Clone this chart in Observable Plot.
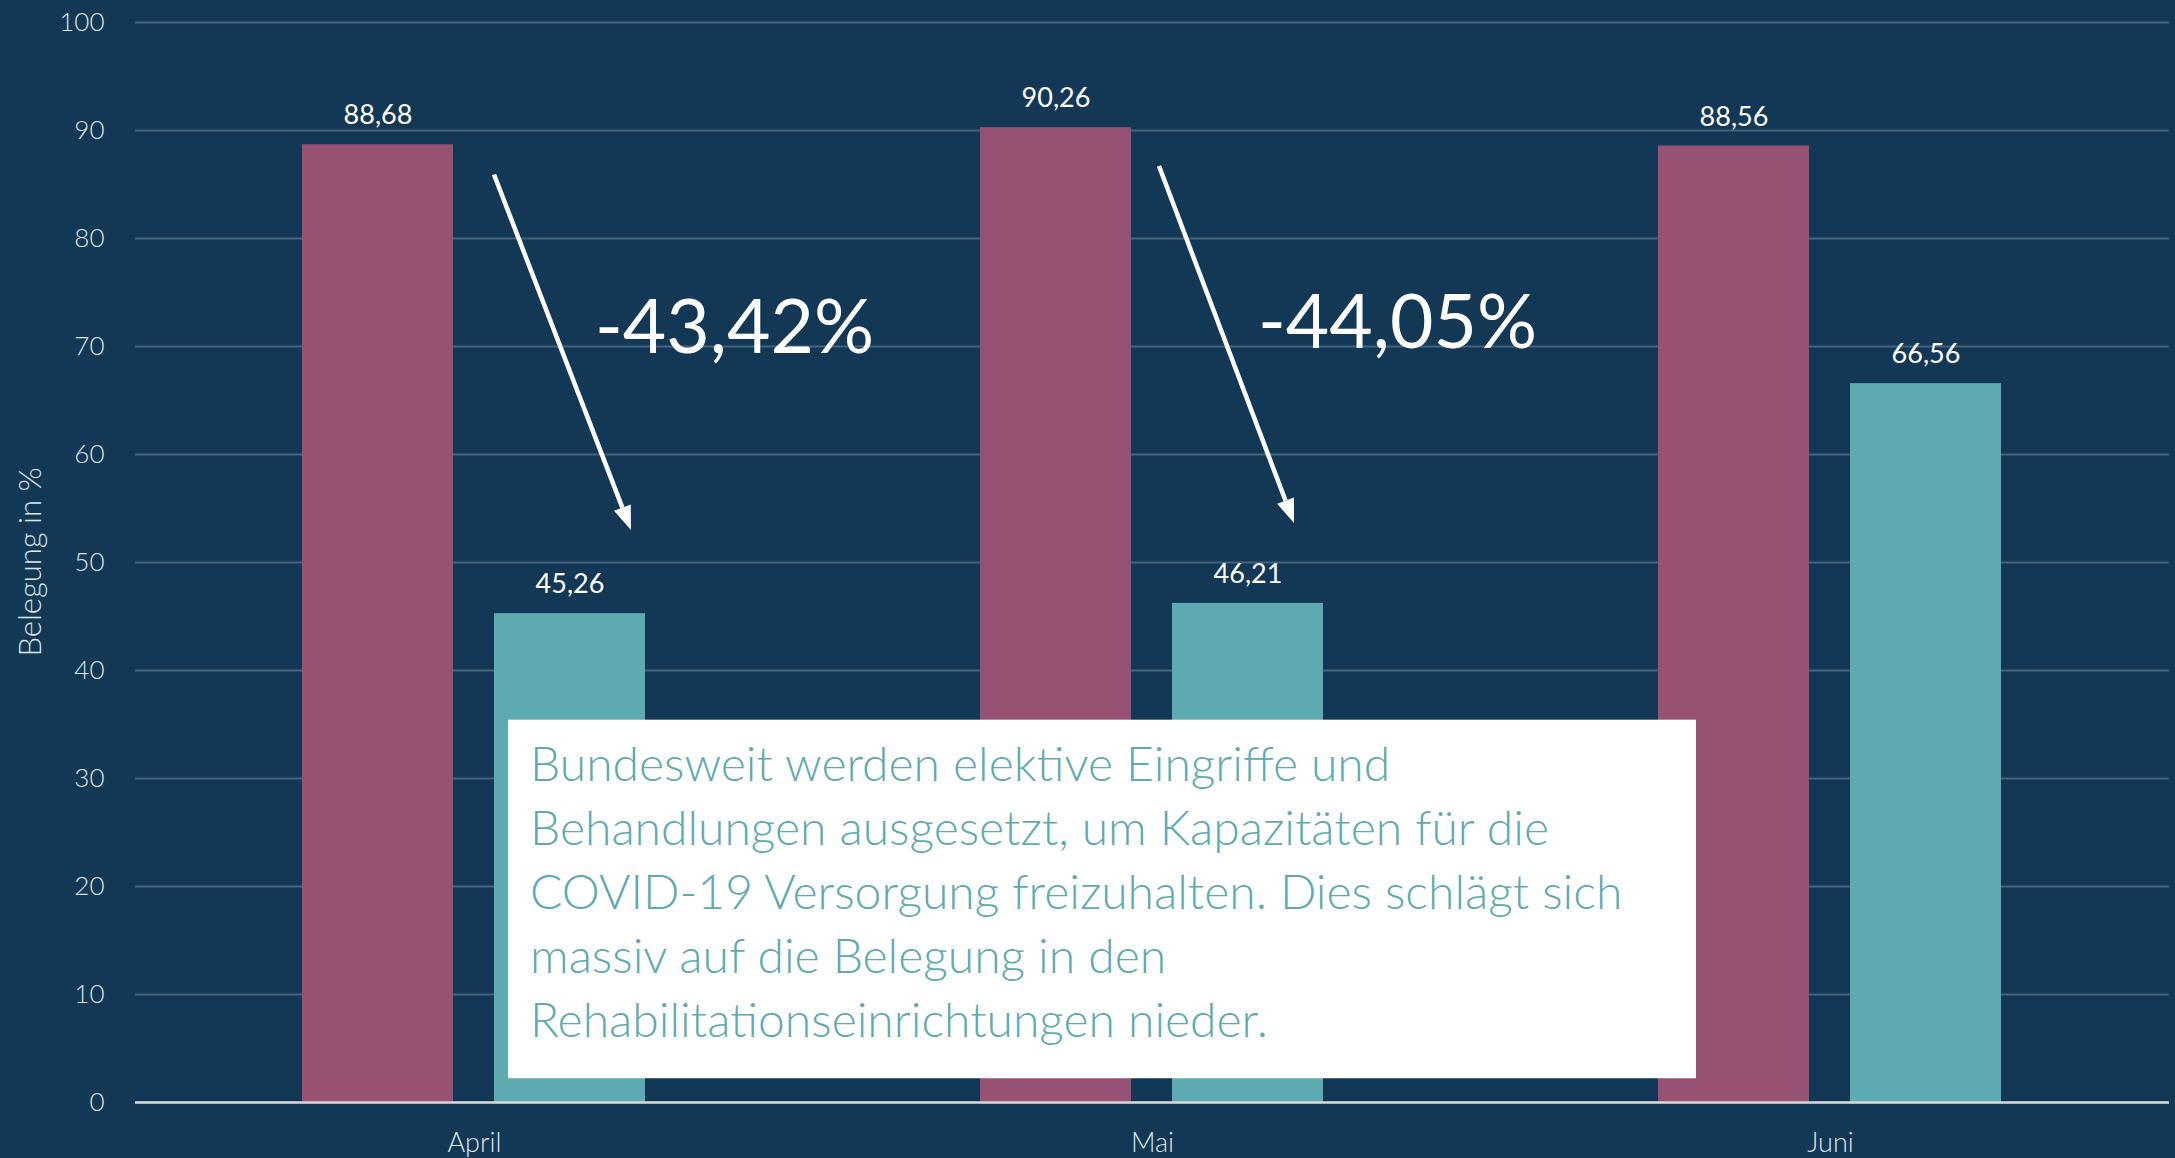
<!DOCTYPE html>
<html>
<head>
<meta charset="utf-8">
<script src="https://cdn.jsdelivr.net/npm/d3@7"></script>
<script src="https://cdn.jsdelivr.net/npm/@observablehq/plot@0.6"></script>
<style>
  html, body { margin: 0; padding: 0; background: #123856; }
  #chart { position: relative; width: 2175px; height: 1158px; }
  svg { display: block; }
</style>
</head>
<body>
<div id="chart"></div>
<script>
// ---- data ----
const months = ["April", "Mai", "Juni"];
const series = ["2019", "2020"];
const values2019 = [88.68, 90.26, 88.56];
const values2020 = [45.26, 46.21, 66.56];
const changeMonths = ["April", "Mai"];
const changeLabels = ["-43,42%", "-44,05%"];
const yTicks = [0, 10, 20, 30, 40, 50, 60, 70, 80, 90, 100];
const yLabel = "Belegung in %";
const noteLines = [
  "Bundesweit werden elektive Eingriffe und",
  "Behandlungen ausgesetzt, um Kapazitäten für die",
  "COVID-19 Versorgung freizuhalten. Dies schlägt sich",
  "massiv auf die Belegung in den",
  "Rehabilitationseinrichtungen nieder."
];

// ---- styles / annotation layout ----
const BG = "#123856";
const MAROON = "#965173";
const TEAL = "#5eaab1";
const AXIS_TEXT = "#dfe5ea";
const FONT = "Lato, 'Open Sans', sans-serif";
// pixel offsets of each arrow relative to the 2020 bar's left edge, and value offsets
const arrowLayout = [
  {startDx: 0, endDx: 137, startDv: -2.8, endDv: 7.7, textDx: 101, textDv: -19.3},
  {startDx: -13, endDx: 122, startDv: -3.6, endDv: 7.4, textDx: 86, textDv: -20.4}
];

const data = months.flatMap((m, i) => [
  {month: m, series: series[0], value: values2019[i]},
  {month: m, series: series[1], value: values2020[i]}
]);
const fmt = v => v.toFixed(2).replace(".", ",");

const plot = Plot.plot({
  width: 2175,
  height: 1158,
  marginLeft: 135,
  marginRight: 6,
  marginTop: 22,
  marginBottom: 56,
  style: {background: BG, fontFamily: FONT, overflow: "visible"},
  fx: {domain: months, padding: 0, label: null},
  x: {domain: series, paddingInner: 0.211, paddingOuter: 0.862, axis: null},
  y: {domain: [0, 100], label: null},
  color: {domain: series, range: [MAROON, TEAL]},
  marks: [
    Plot.gridY(yTicks, {stroke: "#ffffff", strokeOpacity: 0.22, strokeWidth: 2}),
    Plot.axisY(yTicks, {tickSize: 0, tickPadding: 31, fontSize: 26, fontWeight: 300, fill: AXIS_TEXT, label: null}),
    Plot.axisFx({anchor: "bottom", tickSize: 0, tickPadding: 30, fontSize: 27, fontWeight: 300, fill: AXIS_TEXT, label: null}),
    Plot.barY(data, {fx: "month", x: "series", y: "value", fill: "series"}),
    Plot.ruleY([0], {stroke: "#d9d9d9", strokeWidth: 2.5}),
    Plot.text(data, {fx: "month", x: "series", y: "value", text: d => fmt(d.value), dy: -29, fill: "#ffffff", fontSize: 27, fontFamily: FONT})
  ]
});

document.getElementById("chart").appendChild(plot);

// ---- annotations positioned through the plot's scales ----
const fxS = plot.scale("fx"), xS = plot.scale("x"), yS = plot.scale("y");
const x0 = Math.min(...xS.range);
const barLeft = (m, s) => fxS.apply(m) + xS.apply(s) - x0;
const y = v => yS.apply(v);
const svg = d3.select(plot);
const ann = svg.append("g").attr("class", "annotations").attr("text-anchor", "start");

// y-axis title
const yMid = (y(0) + y(100)) / 2;
ann.append("text")
  .attr("transform", `translate(29,${yMid}) rotate(-90)`)
  .attr("text-anchor", "middle")
  .attr("dominant-baseline", "central")
  .attr("fill", AXIS_TEXT)
  .attr("font-family", FONT)
  .attr("font-weight", 300)
  .attr("font-size", 31)
  .text(yLabel);

// arrows + percentage labels
changeMonths.forEach((m, k) => {
  const i = months.indexOf(m);
  const L = arrowLayout[k];
  const tealLeft = barLeft(m, series[1]);
  const sx = tealLeft + L.startDx, sy = y(values2019[i] + L.startDv);
  const ex = tealLeft + L.endDx, ey = y(values2020[i] + L.endDv);
  const ang = Math.atan2(ey - sy, ex - sx);
  const headLen = 24, headHalf = 9;
  const bx = ex - headLen * Math.cos(ang), by = ey - headLen * Math.sin(ang);
  ann.append("line")
    .attr("x1", sx).attr("y1", sy).attr("x2", bx).attr("y2", by)
    .attr("stroke", "#ffffff").attr("stroke-width", 4.5);
  const px = -Math.sin(ang), py = Math.cos(ang);
  ann.append("path")
    .attr("d", `M${ex},${ey}L${bx + px * headHalf},${by + py * headHalf}L${bx - px * headHalf},${by - py * headHalf}Z`)
    .attr("fill", "#ffffff");
  ann.append("text")
    .attr("x", tealLeft + L.textDx)
    .attr("y", y(values2019[i] + L.textDv))
    .attr("text-anchor", "start")
    .attr("fill", "#ffffff")
    .attr("font-family", FONT)
    .attr("font-size", 75)
    .text(changeLabels[k]);
});

// note box
const boxL = barLeft("April", series[1]) + 14;
const boxR = barLeft("Juni", series[0]) + 38;
const boxT = y(35.4), boxB = y(2.2);
ann.append("rect")
  .attr("x", boxL).attr("y", boxT)
  .attr("width", boxR - boxL).attr("height", boxB - boxT)
  .attr("fill", "#ffffff");
const note = ann.append("text")
  .attr("text-anchor", "start")
  .attr("fill", TEAL)
  .attr("font-family", FONT)
  .attr("font-weight", 300)
  .attr("font-size", 48);
noteLines.forEach((line, j) => {
  note.append("tspan")
    .attr("x", boxL + 22)
    .attr("y", boxT + 61 + j * 64)
    .text(line);
});
</script>
</body>
</html>
